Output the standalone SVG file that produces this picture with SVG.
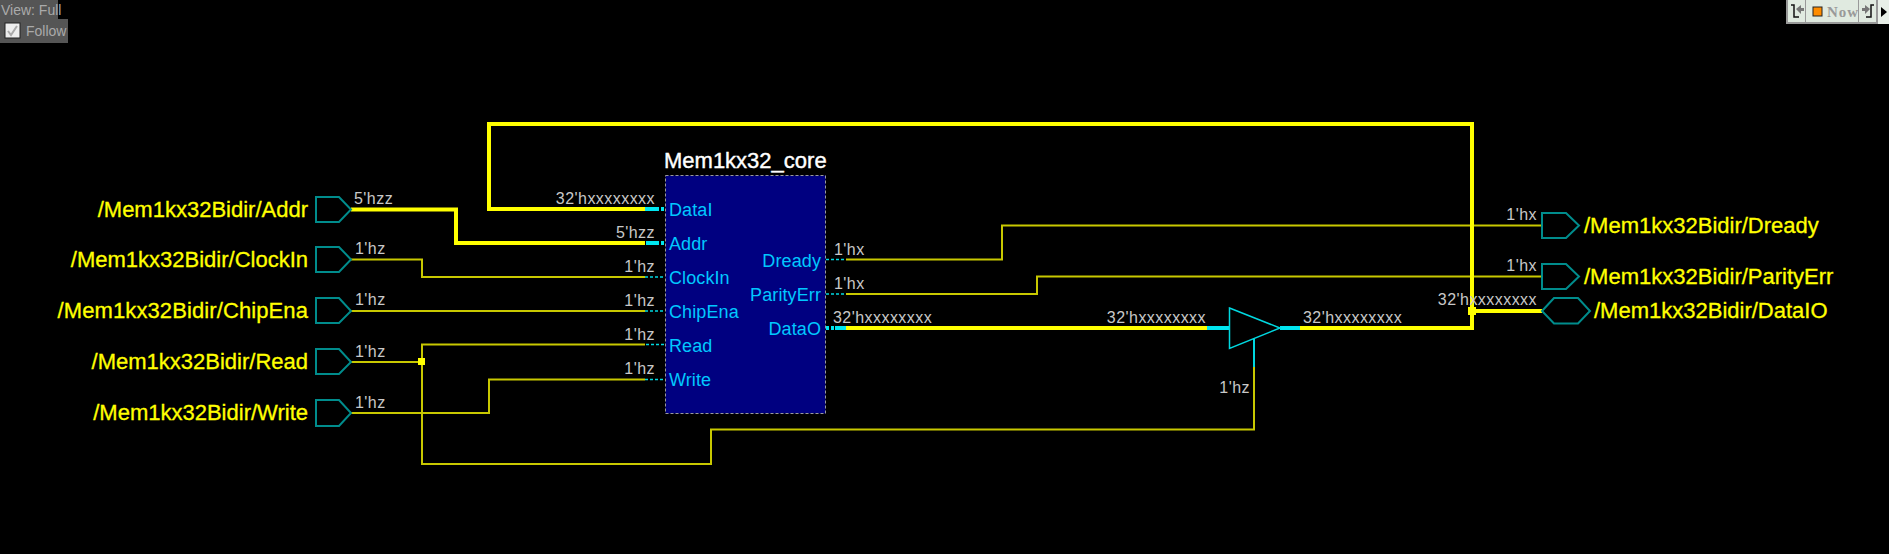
<svg xmlns="http://www.w3.org/2000/svg" width="1889" height="554" viewBox="0 0 1889 554">
<style>
text{font-family:"Liberation Sans",Arial,sans-serif}
.port{fill:none;stroke:#008c8c;stroke-width:2}
.pl{font-size:22px;fill:#ffff00;stroke:#ffff00;stroke-width:.3px}
.val{font-size:16px;fill:#c8c8c8;letter-spacing:.45px}
.pin{font-size:18px;fill:#00c8ff;letter-spacing:.1px}
.thin{fill:none;stroke:#c8c800;stroke-width:2}
.thick{fill:none;stroke:#ffff00;stroke-width:4}
.ct{fill:none;stroke:#00e6f0;stroke-width:4}
.cn{fill:none;stroke:#00d8e0;stroke-width:1.5}
.dt{stroke-dasharray:3 2}
.jn{fill:#ffff00}
.r{text-anchor:end}
</style>
<rect width="1889" height="554" fill="#000"/>
<g id="toolbar-left">
<rect x="0" y="0" width="58" height="19" fill="#555"/>
<rect x="0" y="19" width="68" height="24" fill="#555"/>
<rect x="5" y="23" width="15" height="15" fill="#eee" stroke="#222"/>
<path d="M8 31l3 4l6-9" fill="none" stroke="#aaa" stroke-width="2"/>
<text x="1" y="15" font-size="14" fill="#aaa">View: Full</text>
<text x="26" y="36" font-size="14" fill="#aaa">Follow</text>
</g>
<g id="toolbar-right">
<rect x="1786" y="0" width="103" height="24" fill="#999"/>
<rect x="1788" y="0" width="17" height="22" fill="#e0eae0"/>
<rect x="1806" y="0" width="52" height="22" fill="#e0eae0"/>
<rect x="1859" y="0" width="17" height="22" fill="#e0eae0"/>
<rect x="1878" y="0" width="11" height="24" fill="#e8efe8"/>
<path d="M1791 5h3v12h5" fill="none" stroke="#111" stroke-width="1.5"/>
<path d="M1796 9l5-4v3h3v3h-3v3z" fill="#777"/>
<rect x="1813" y="7" width="9" height="9" fill="#ff8c00" stroke="#222"/>
<text x="1827" y="17" font-size="15" font-weight="bold" fill="#999" letter-spacing="1" style="font-family:'Liberation Serif',serif">Now</text>
<path d="M1874 5h-3v12h-5" fill="none" stroke="#111" stroke-width="1.5"/>
<path d="M1870 9l-5-4v3h-3v3h3v3z" fill="#777"/>
<path d="M1881 7l6 5l-6 5z" fill="#000"/>
</g>
<g id="connectors">
<path class="thick" d="M351 209.500H456V243H645"/>
<path class="thin" d="M351 259.500H422V277H645"/>
<path class="thin" d="M351 311H645"/>
<path class="thin" d="M351 362H422V344.500H645"/>
<path class="thin" d="M351 413H489V379.500H645"/>
<path class="thin" d="M422 362V464H711V429.500H1254V367"/>
<path class="thin" d="M846 259.500H1002V225.500H1542"/>
<path class="thin" d="M846 294H1037V276.500H1542"/>
<path class="thick" d="M1300 328H1472V124H489V209H645"/>
<path class="thick" d="M846 328H1208"/>
<path class="thick" d="M1472 311H1542"/>
<path class="ct" d="M645 209H656M1207 328H1229M1280 328H1300M646 243H656M835 328H846"/>
<path class="ct dt" d="M656 209H665M656 243H665M826 328H834"/>
<path class="cn dt" d="M645 277H665M645 311H665M646 344.500H665M645 379.500H665M826 259.500H846M826 294H846"/>
<path fill="none" stroke="#00d8e0" stroke-width="2" d="M1254 367V339"/>
<rect class="jn" x="418" y="358" width="7" height="7"/>
<rect class="jn" x="1468" y="307" width="8" height="8"/>
</g>
<g id="port-addr"><path class="port" d="M316 197H339L351 209.500L339 222H316Z"/><text class="pl r" x="308" y="217">/Mem1kx32Bidir/Addr</text><text class="val" x="354" y="204">5'hzz</text></g>
<g id="port-clockin"><path class="port" d="M316 247H339L351 259.500L339 272H316Z"/><text class="pl r" x="308" y="267">/Mem1kx32Bidir/ClockIn</text><text class="val" x="355" y="254">1'hz</text></g>
<g id="port-chipena"><path class="port" d="M316 298H339L351 311L339 323H316Z"/><text class="pl r" x="308" y="318" letter-spacing=".1">/Mem1kx32Bidir/ChipEna</text><text class="val" x="355" y="305">1'hz</text></g>
<g id="port-read"><path class="port" d="M316 349H339L351 362L339 374H316Z"/><text class="pl r" x="308" y="369">/Mem1kx32Bidir/Read</text><text class="val" x="355" y="357">1'hz</text></g>
<g id="port-write"><path class="port" d="M316 400H339L351 413L339 426H316Z"/><text class="pl r" x="308" y="420">/Mem1kx32Bidir/Write</text><text class="val" x="355" y="408">1'hz</text></g>
<g id="mem1kx32-core">
<rect x="665.500" y="175.500" width="160" height="238" fill="#000080" stroke="#9a9a9a" stroke-width="1" stroke-dasharray="3 2"/>
<text x="664" y="168" font-size="22" fill="#fff" stroke="#fff" stroke-width=".4">Mem1kx32_core</text>
<text class="pin" x="669" y="216">DataI</text>
<text class="pin" x="669" y="250">Addr</text>
<text class="pin" x="669" y="284">ClockIn</text>
<text class="pin" x="669" y="318">ChipEna</text>
<text class="pin" x="669" y="352">Read</text>
<text class="pin" x="669" y="386">Write</text>
<text class="pin r" x="821" y="267">Dready</text>
<text class="pin r" x="821" y="301">ParityErr</text>
<text class="pin r" x="821" y="335">DataO</text>
<text class="val r" x="655" y="204">32'hxxxxxxxx</text>
<text class="val r" x="655" y="238">5'hzz</text>
<text class="val r" x="655" y="272">1'hz</text>
<text class="val r" x="655" y="306">1'hz</text>
<text class="val r" x="655" y="340">1'hz</text>
<text class="val r" x="655" y="374">1'hz</text>
<text class="val" x="834" y="255">1'hx</text>
<text class="val" x="834" y="289">1'hx</text>
<text class="val" x="833" y="323">32'hxxxxxxxx</text>
</g>
<g id="tristate-buffer">
<path d="M1229.500 308L1280 328L1229.500 348.500Z" fill="none" stroke="#00d8e0" stroke-width="1.500"/>
<text class="val r" x="1206" y="323">32'hxxxxxxxx</text>
<text class="val" x="1303" y="323">32'hxxxxxxxx</text>
<text class="val r" x="1250" y="393">1'hz</text>
</g>
<g id="port-dready"><path class="port" d="M1542 213H1566L1579 225.500L1566 238H1542Z"/><text class="pl" x="1584" y="233">/Mem1kx32Bidir/Dready</text><text class="val r" x="1537" y="220">1'hx</text></g>
<g id="port-parityerr"><path class="port" d="M1542 264H1566L1579 276.500L1566 289H1542Z"/><text class="pl" x="1584" y="284">/Mem1kx32Bidir/ParityErr</text><text class="val r" x="1537" y="271">1'hx</text></g>
<g id="port-dataio"><path class="port" d="M1542 311L1554 298H1578L1590 311L1578 323.500H1554Z"/><text class="pl" x="1594" y="318">/Mem1kx32Bidir/DataIO</text><text class="val r" x="1537" y="305">32'hxxxxxxxx</text></g>
</svg>
